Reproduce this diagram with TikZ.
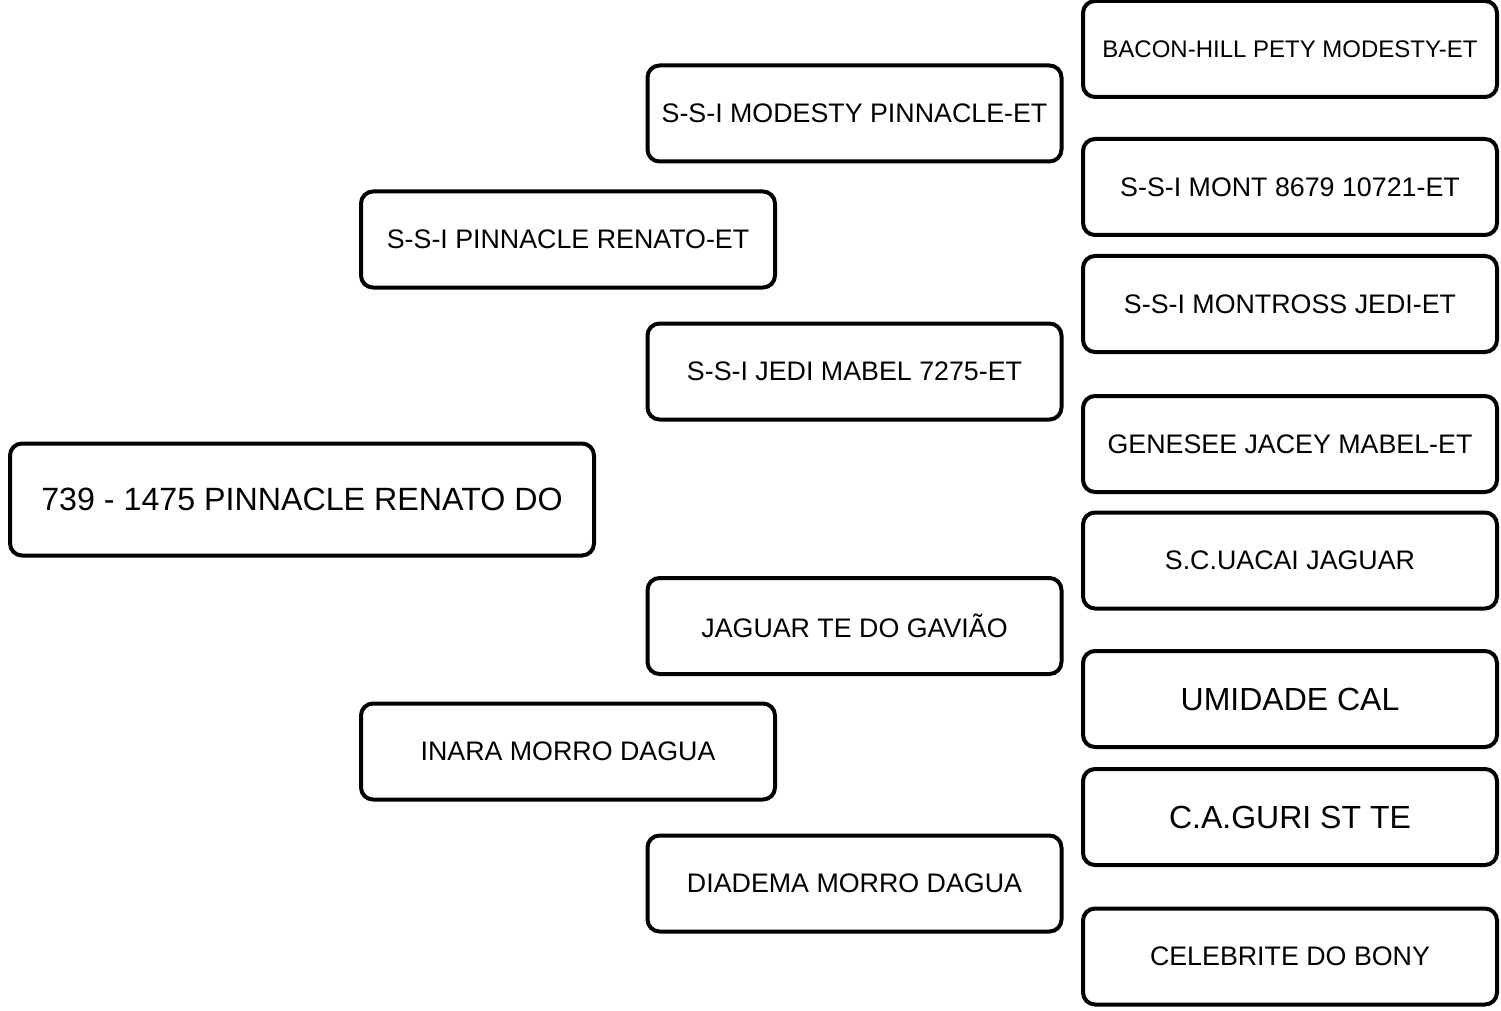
\documentclass[tikz,border=0pt]{standalone}
\usepackage{fontspec}
\setmainfont{Liberation Sans}
\usepackage{tikz}

\begin{document}
\begin{tikzpicture}[x=0.5pt,y=0.5pt,yscale=-1,xscale=1,
  pedbox/.style={draw, line width=2pt, rounded corners=6pt, fill=white,
    minimum width=207pt, minimum height=48pt, inner sep=0pt, align=center,
    font=\fontsize{13.4pt}{16pt}\selectfont},
  smallbox/.style={pedbox, font=\fontsize{12pt}{14pt}\selectfont},
  bigbox/.style={pedbox, font=\fontsize{16pt}{19pt}\selectfont},
  rootbox/.style={pedbox, minimum width=292pt, minimum height=56pt,
    font=\fontsize{16.1pt}{19pt}\selectfont}]
\useasboundingbox (0,0) rectangle (1501,1011);

% Animal
\draw (302,499.5) node [rootbox] (animal) {739 - 1475 PINNACLE RENATO DO};

% Parents
\draw (568,239.5) node [pedbox] (sire) {S-S-I PINNACLE RENATO-ET};
\draw (568,751.5) node [pedbox] (dam) {INARA MORRO DAGUA};

% Grandparents
\draw (854.5,113.5) node [pedbox] (ss) {S-S-I MODESTY PINNACLE-ET};
\draw (854.5,371.5) node [pedbox] (sd) {S-S-I JEDI MABEL 7275-ET};
\draw (854.5,626) node [pedbox] (ds) {JAGUAR TE DO GAVIÃO};
\draw (854.5,883.5) node [pedbox] (dd) {DIADEMA MORRO DAGUA};

% Great-grandparents
\draw (1290,49) node [smallbox] (sss) {BACON-HILL PETY MODESTY-ET};
\draw (1290,187) node [pedbox] (ssd) {S-S-I MONT 8679 10721-ET};
\draw (1290,304) node [pedbox] (sds) {S-S-I MONTROSS JEDI-ET};
\draw (1290,444) node [pedbox] (sdd) {GENESEE JACEY MABEL-ET};
\draw (1290,560.5) node [pedbox] (dss) {S.C.UACAI JAGUAR};
\draw (1290,699) node [bigbox] (dsd) {UMIDADE CAL};
\draw (1290,817) node [bigbox] (dds) {C.A.GURI ST TE};
\draw (1290,956.5) node [pedbox] (ddd) {CELEBRITE DO BONY};

\end{tikzpicture}
\end{document}
